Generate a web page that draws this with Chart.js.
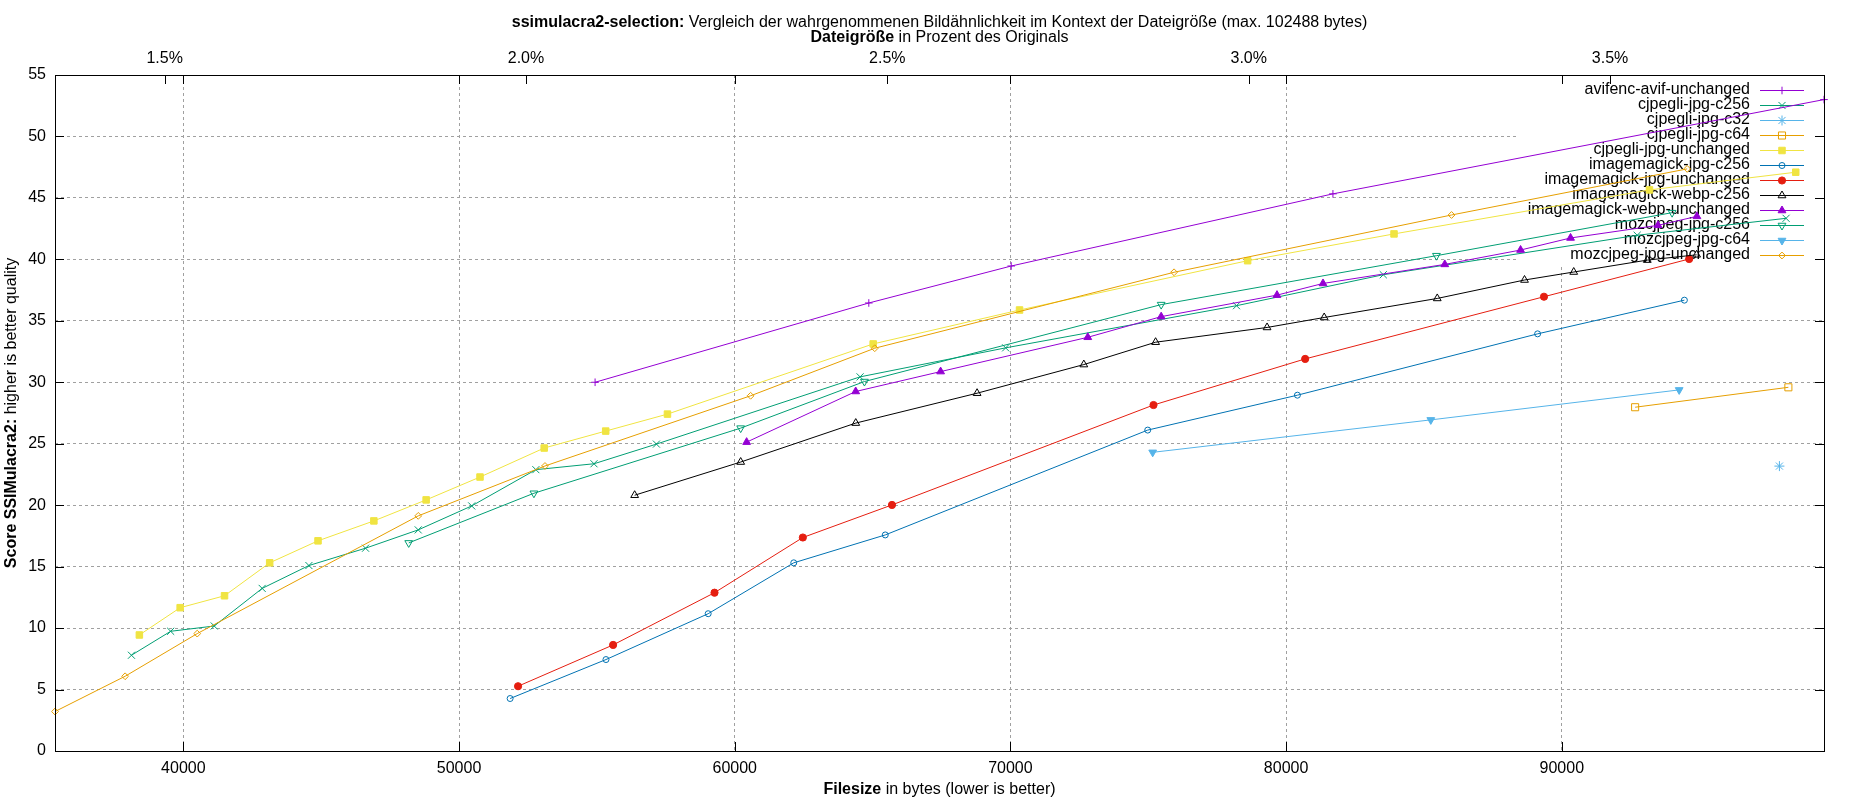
<!DOCTYPE html>
<html>
<head>
<meta charset="utf-8">
<title>ssimulacra2-selection</title>
<script src="https://cdn.jsdelivr.net/npm/chart.js@4.4.1/dist/chart.umd.min.js"></script>
<style>
html, body { margin: 0; padding: 0; background: #fff; }
canvas { display: block; }
</style>
</head>
<body>
<canvas id="mycanvas" width="1850" height="800"></canvas>
<script>
// original file size (2.5 MiB), used for the percent axis on top
var originalSize = 2621440;
var xMin = 35345, xMax = 99510;

var xTicks = [40000, 50000, 60000, 70000, 80000, 90000];
var yTicks = [0, 5, 10, 15, 20, 25, 30, 35, 40, 45, 50, 55];
var pctTicks = [1.5, 2.0, 2.5, 3.0, 3.5];

var seriesNames = [
'avifenc-avif-unchanged', 'cjpegli-jpg-c256', 'cjpegli-jpg-c32', 'cjpegli-jpg-c64',
'cjpegli-jpg-unchanged', 'imagemagick-jpg-c256', 'imagemagick-jpg-unchanged', 'imagemagick-webp-c256',
'imagemagick-webp-unchanged', 'mozcjpeg-jpg-c256', 'mozcjpeg-jpg-c64', 'mozcjpeg-jpg-unchanged'
];

// [filesize in bytes, ssimulacra2 score]
var avifencAvifUnchanged = [[54935, 30.0], [64863, 36.45], [70029, 39.46], [81698, 45.33], [99510, 53.0]];
var cjpegliJpgC256 = [[38118, 7.79], [39540, 9.74], [41121, 10.17], [42859, 13.23], [44555, 15.09], [46609, 16.50],
[48520, 17.99], [50460, 19.94], [52787, 22.89], [54895, 23.37], [57160, 24.97], [64547, 30.44], [69827, 32.80],
[78200, 36.23], [83525, 38.75], [92734, 41.96], [98134, 43.34]];
var cjpegliJpgC32 = [[97893, 23.18]];
var cjpegliJpgC64 = [[92659, 27.97], [98218, 29.59]];
var cjpegliJpgUnchanged = [[38405, 9.44], [39885, 11.66], [41494, 12.63], [43132, 15.31], [44885, 17.10], [46911, 18.72],
[48807, 20.43], [50761, 22.29], [53089, 24.65], [55320, 26.03], [57560, 27.41], [65022, 33.12], [70331, 35.88],
[78604, 39.89], [83914, 42.07], [93180, 45.65], [98485, 47.09]];
var imagemagickJpgC256 = [[51853, 4.27], [55330, 7.44], [59037, 11.17], [62141, 15.31], [65460, 17.58], [74980, 26.11],
[80410, 28.95], [89122, 33.94], [94446, 36.68]];
var imagemagickJpgUnchanged = [[52141, 5.27], [55589, 8.63], [59267, 12.88], [62471, 17.37], [65704, 20.02], [75190, 28.15],
[80691, 31.90], [89353, 36.96], [94619, 40.03]];
var imagemagickWebpC256 = [[56370, 20.81], [60216, 23.51], [64390, 26.68], [68791, 29.11], [72662, 31.44], [75266, 33.26],
[79309, 34.46], [81381, 35.27], [85482, 36.82], [88647, 38.32], [90432, 38.97], [93100, 39.94], [94890, 40.37]];
var imagemagickWebpUnchanged = [[60432, 25.13], [64388, 29.25], [67468, 30.87], [72806, 33.66], [75468, 35.34], [79669, 37.09],
[81338, 38.04], [85755, 39.59], [88504, 40.76], [90317, 41.74], [93490, 42.77], [94900, 43.50]];
var mozcjpegJpgC256 = [[48175, 16.93], [52716, 20.97], [60216, 26.27], [64705, 30.06], [75468, 36.32], [85453, 40.30], [94000, 43.80]];
var mozcjpegJpgC64 = [[75160, 24.30], [85248, 26.94], [94257, 29.38]];
var mozcjpegJpgUnchanged = [[35345, 3.21], [37888, 6.08], [40503, 9.55], [48520, 19.13], [53118, 23.19], [60576, 28.90],
[65079, 32.77], [75935, 38.95], [86000, 43.61], [94547, 47.36]];

var seriesData = [avifencAvifUnchanged, cjpegliJpgC256, cjpegliJpgC32, cjpegliJpgC64, cjpegliJpgUnchanged,
imagemagickJpgC256, imagemagickJpgUnchanged, imagemagickWebpC256, imagemagickWebpUnchanged,
mozcjpegJpgC256, mozcjpegJpgC64, mozcjpegJpgUnchanged];

// gnuplot default line colours and point types
var seriesColors = ['#9400d3', '#009e73', '#56b4e9', '#e69f00', '#f0e442', '#0072b2', '#e51e10', '#000000',
'#9400d3', '#009e73', '#56b4e9', '#e69f00'];
var seriesPointStyles = ['cross', 'crossRot', 'star', 'rect', 'rect', 'circle', 'circle', 'triangle',
'triangle', 'triangle', 'triangle', 'rectRot'];
var seriesFilled = [false, false, false, false, true, false, true, false, true, false, true, false];
var seriesRotation = [0, 0, 0, 0, 0, 0, 0, 0, 0, 180, 180, 0];
var seriesRadius = [3.8, 5, 5, 5, 4.6, 3, 3.6, 4.5, 4.5, 4.5, 4.5, 3.4];

var fontFamily = "'Liberation Sans', Arial, sans-serif";
Chart.defaults.font.family = fontFamily;
Chart.defaults.font.size = 16;
Chart.defaults.color = '#000';

var datasets = seriesNames.map(function(name, i) {
  return {
    label: name,
    data: seriesData[i].map(function(p) { return {x: p[0], y: p[1]}; }),
    borderColor: seriesColors[i],
    backgroundColor: seriesColors[i],
    borderWidth: 1,
    pointStyle: seriesPointStyles[i],
    pointRotation: seriesRotation[i],
    pointRadius: seriesRadius[i],
    pointHoverRadius: seriesRadius[i],
    pointBorderWidth: 1,
    pointBorderColor: seriesColors[i],
    pointBackgroundColor: seriesFilled[i] ? seriesColors[i] : 'rgba(0,0,0,0)',
    fill: false,
    tension: 0,
    clip: false,
    order: seriesNames.length - i
  };
});

function drawMixed(ctx, boldPart, normalPart, cx, cy) {
  ctx.font = 'bold 16px ' + fontFamily;
  var wb = ctx.measureText(boldPart).width;
  ctx.font = '16px ' + fontFamily;
  var wn = ctx.measureText(normalPart).width;
  var x0 = cx - (wb + wn) / 2;
  ctx.textAlign = 'left';
  ctx.textBaseline = 'middle';
  ctx.fillStyle = '#000';
  ctx.font = 'bold 16px ' + fontFamily;
  ctx.fillText(boldPart, x0, cy);
  ctx.font = '16px ' + fontFamily;
  ctx.fillText(normalPart, x0 + wb, cy);
}

// key inside the plot, top right, hides the grid behind it
var keyPlugin = {
  id: 'key',
  beforeDatasetsDraw: function(chart) {
    var ctx = chart.ctx, a = chart.chartArea;
    ctx.save();
    ctx.fillStyle = '#fff';
    ctx.fillRect(a.right - 306, a.top + 1, 305, 189);
    ctx.font = '16px ' + fontFamily;
    ctx.textAlign = 'right';
    ctx.textBaseline = 'middle';
    chart.data.datasets.forEach(function(ds, i) {
      var y = a.top + 15 + i * 15;
      ctx.fillStyle = '#000';
      ctx.fillText(ds.label, a.right - 74, y);
      ctx.strokeStyle = ds.borderColor;
      ctx.lineWidth = 1;
      ctx.beginPath();
      ctx.moveTo(a.right - 64, y + 0.5);
      ctx.lineTo(a.right - 20, y + 0.5);
      ctx.stroke();
      ctx.fillStyle = ds.pointBackgroundColor;
      Chart.helpers.drawPoint(ctx, {
        pointStyle: ds.pointStyle, radius: ds.pointRadius,
        rotation: ds.pointRotation, borderWidth: 1
      }, a.right - 42, y + 0.5);
    });
    ctx.restore();
  }
};

// frame, inward ticks and the titles
var framePlugin = {
  id: 'frame',
  afterDraw: function(chart) {
    var ctx = chart.ctx, a = chart.chartArea;
    var sx = chart.scales.x, sx2 = chart.scales.x2, sy = chart.scales.y;
    var t = 9;
    ctx.save();
    ctx.strokeStyle = '#000';
    ctx.lineWidth = 1;
    ctx.beginPath();
    xTicks.forEach(function(v) {
      var px = Math.round(sx.getPixelForValue(v)) + 0.5;
      ctx.moveTo(px, a.bottom); ctx.lineTo(px, a.bottom - t);
      ctx.moveTo(px, a.top); ctx.lineTo(px, a.top + t);
    });
    pctTicks.forEach(function(v) {
      var px = Math.round(sx2.getPixelForValue(v)) + 0.5;
      ctx.moveTo(px, a.top); ctx.lineTo(px, a.top + t);
    });
    yTicks.forEach(function(v) {
      var py = Math.round(sy.getPixelForValue(v)) + 0.5;
      ctx.moveTo(a.left, py); ctx.lineTo(a.left + t, py);
      ctx.moveTo(a.right, py); ctx.lineTo(a.right - t, py);
    });
    ctx.stroke();
    ctx.strokeRect(Math.round(a.left) + 0.5, Math.round(a.top) + 0.5,
      Math.round(a.right - a.left), Math.round(a.bottom - a.top));

    var cx = (a.left + a.right) / 2;
    drawMixed(ctx, 'ssimulacra2-selection:', ' Vergleich der wahrgenommenen Bildähnlichkeit im Kontext der Dateigröße (max. 102488 bytes)', cx, 23);
    drawMixed(ctx, 'Dateigröße', ' in Prozent des Originals', cx, 38);
    drawMixed(ctx, 'Filesize', ' in bytes (lower is better)', cx, 790);
    ctx.translate(12, (a.top + a.bottom) / 2);
    ctx.rotate(-Math.PI / 2);
    drawMixed(ctx, 'Score SSIMulacra2:', ' higher is better quality', 0, 0);
    ctx.restore();
  }
};

var ctx = document.querySelector('#mycanvas');

var lineGraph = new Chart(ctx, {
  type: 'line',
  data: { datasets: datasets },
  plugins: [keyPlugin, framePlugin],
  options: {
    responsive: false,
    animation: false,
    devicePixelRatio: 1,
    layout: { padding: { left: 0, right: 26, top: 0, bottom: 0 } },
    plugins: { legend: { display: false }, title: { display: false }, tooltip: { enabled: false } },
    scales: {
      x: {
        type: 'linear', position: 'bottom', min: xMin, max: xMax,
        afterBuildTicks: function(s) { s.ticks = xTicks.map(function(v) { return {value: v}; }); },
        afterFit: function(s) { s.height = 49; },
        ticks: { padding: 8, maxRotation: 0, callback: function(v) { return String(v); } },
        grid: { color: '#a0a0a0', lineWidth: 1, drawTicks: false },
        border: { display: false, dash: [3, 3] }
      },
      x2: {
        type: 'linear', position: 'top',
        min: xMin / originalSize * 100, max: xMax / originalSize * 100,
        afterBuildTicks: function(s) { s.ticks = pctTicks.map(function(v) { return {value: v}; }); },
        afterFit: function(s) { s.height = 75; },
        ticks: { padding: 7, maxRotation: 0, callback: function(v) { return v.toFixed(1) + '%'; } },
        grid: { display: false, drawTicks: false },
        border: { display: false }
      },
      y: {
        type: 'linear', position: 'left', min: 0, max: 55,
        afterBuildTicks: function(s) { s.ticks = yTicks.map(function(v) { return {value: v}; }); },
        afterFit: function(s) { s.width = 55; },
        ticks: { padding: 9, callback: function(v) { return String(v); } },
        grid: { color: '#a0a0a0', lineWidth: 1, drawTicks: false },
        border: { display: false, dash: [3, 3] }
      }
    }
  }
});
</script>
</body>
</html>
